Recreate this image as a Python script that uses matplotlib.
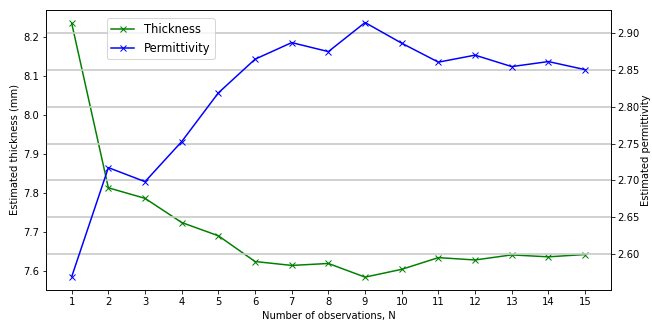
import matplotlib
matplotlib.use("Agg")
import matplotlib.pyplot as plt

# --- data ---
n_obs = list(range(1, 16))
thickness = [8.235, 7.813, 7.786, 7.724, 7.690, 7.624, 7.614, 7.619,
             7.584, 7.604, 7.634, 7.628, 7.641, 7.636, 7.642]
permittivity = [2.5696, 2.7174, 2.6984, 2.7527, 2.8187, 2.8643, 2.8868, 2.8746,
                2.9140, 2.8860, 2.8603, 2.8698, 2.8543, 2.8611, 2.8502]

fig, ax1 = plt.subplots(figsize=(652 / 72, 322 / 72), dpi=72)
fig.subplots_adjust(left=0.0706, right=0.9367, top=0.969, bottom=0.0994)

l1, = ax1.plot(n_obs, thickness, color="green", marker="x", label="Thickness")
ax1.set_xlabel("Number of observations, N")
ax1.set_ylabel("Estimated thickness (mm)")
ax1.set_xticks(n_obs)
ax1.set_ylim(7.551, 8.269)

ax2 = ax1.twinx()
l2, = ax2.plot(n_obs, permittivity, color="blue", marker="x", label="Permittivity")
ax2.set_ylabel("Estimated permittivity", labelpad=1)
ax2.set_ylim(2.5516, 2.931)
ax2.grid(True, axis="y", color="#c8c8c8", lw=1.6)

ax2.legend(handles=[l1, l2], loc="upper left", bbox_to_anchor=(0.1075, 0.970),
           borderaxespad=0, fontsize=11.5)

fig.savefig("out.png")
